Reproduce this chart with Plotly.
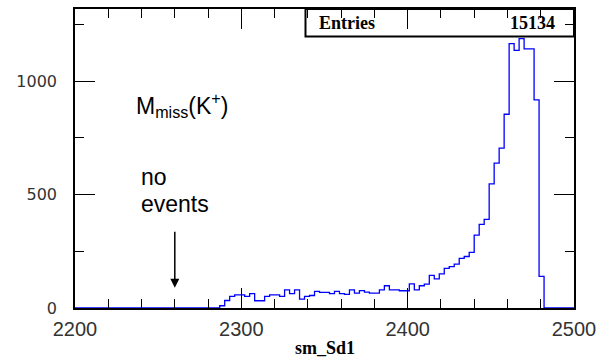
import numpy as np
import plotly.graph_objects as go

# ---- data ----
x_min, x_max, n_bins = 2200, 2500, 100
counts = (
    [0] * 29
    + [10, 33, 51, 58, 58, 51, 63, 32, 32, 51, 58, 58]
    + [51, 80, 63, 80, 39, 51, 55, 73, 69, 69, 63, 73, 63, 60]
    + [80, 66, 77, 70, 66, 66, 80, 98, 80, 80, 76, 76, 106, 80]
    + [98, 105, 144, 128, 150, 175, 182, 193, 219, 227, 245, 321, 369]
    + [391, 547, 639, 705, 854, 1165, 1136, 1187, 1142, 1142, 917, 139]
    + [0] * 6
)
x_ticks = [2200, 2300, 2400, 2500]
y_ticks = [0, 500, 1000]
entries_label = "Entries"
entries_value = "15134"
x_title = "sm_Sd1"
label_mass = "M<sub>miss</sub>(K<sup>+</sup>)"
label_no = "no"
label_events = "events"
arrow_x = 2260
arrow_tail, arrow_tip = 343, 89

edges = np.linspace(x_min, x_max, n_bins + 1)
step_y = list(counts) + [counts[-1]]

# ---- layout geometry (pixels) ----
W, H = 609, 363
L, R, T, B = 75, 35, 7, 55
PW, PH = W - L - R, H - T - B


def px(xp):
    return (xp - L) / PW


def py(yp):
    return (H - B - yp) / PH


fig = go.Figure()
fig.add_trace(go.Scatter(
    x=edges, y=step_y, mode="lines", line_shape="hv",
    line=dict(color="#0000ff", width=1.3), hoverinfo="skip", showlegend=False,
))

axis_common = dict(
    showgrid=False, zeroline=False, showline=True, linecolor="black", linewidth=1.5,
    mirror="ticks", ticks="inside", ticklen=20, tickwidth=1, tickcolor="black",
)

fig.update_xaxes(
    range=[x_min, x_max], tickvals=x_ticks, ticktext=[str(v) for v in x_ticks],
    tickfont=dict(family="Liberation Sans", size=20, color="#333333"),
    minor=dict(dtick=20, ticks="inside", ticklen=9, tickcolor="black", showgrid=False),
    ticklabelstandoff=2,
    **axis_common,
)
fig.update_yaxes(
    range=[0, 1318], tickvals=y_ticks, ticktext=[str(v) for v in y_ticks],
    tickfont=dict(family="DejaVu Sans", size=16, color="#333333"),
    minor=dict(dtick=250, ticks="inside", ticklen=9, tickcolor="black", showgrid=False),
    ticklabelstandoff=13,
    **axis_common,
)

shapes = [dict(
    type="rect", xref="paper", yref="paper",
    x0=px(305.5), x1=1.0, y0=py(34.7), y1=1.0,
    line=dict(color="black", width=2), fillcolor="white", layer="below",
)]

annotations = [
    dict(text=f"<b>{entries_label}</b>", xref="paper", yref="paper", x=px(317), y=py(21),
         xanchor="left", yanchor="middle", showarrow=False,
         font=dict(family="Liberation Serif", size=18, color="black")),
    dict(text=f"<b>{entries_value}</b>", xref="paper", yref="paper", x=px(557), y=py(21),
         xanchor="right", yanchor="middle", showarrow=False,
         font=dict(family="Liberation Serif", size=18, color="black")),
    dict(text=f"<b>{x_title}</b>", xref="paper", yref="paper", x=0.5, y=py(348),
         xanchor="center", yanchor="middle", showarrow=False,
         font=dict(family="Liberation Serif", size=18, color="black")),
    dict(text=label_mass, xref="paper", yref="paper", x=px(134), y=py(104),
         xanchor="left", yanchor="middle", showarrow=False,
         font=dict(family="Liberation Sans", size=23, color="black")),
    dict(text=label_no, xref="paper", yref="paper", x=px(139), y=py(176),
         xanchor="left", yanchor="middle", showarrow=False,
         font=dict(family="Liberation Sans", size=23, color="black")),
    dict(text=label_events, xref="paper", yref="paper", x=px(139), y=py(203),
         xanchor="left", yanchor="middle", showarrow=False,
         font=dict(family="Liberation Sans", size=23, color="black")),
    dict(text="", x=arrow_x, y=arrow_tip, ax=arrow_x, ay=arrow_tail,
         xref="x", yref="y", axref="x", ayref="y", showarrow=True,
         arrowhead=2, arrowsize=1.2, arrowwidth=1.5, arrowcolor="black"),
]

fig.update_layout(
    width=W, height=H, margin=dict(l=L, r=R, t=T, b=B, pad=0),
    paper_bgcolor="white", plot_bgcolor="white",
    shapes=shapes, annotations=annotations, showlegend=False,
)

fig.write_html("out.html")
